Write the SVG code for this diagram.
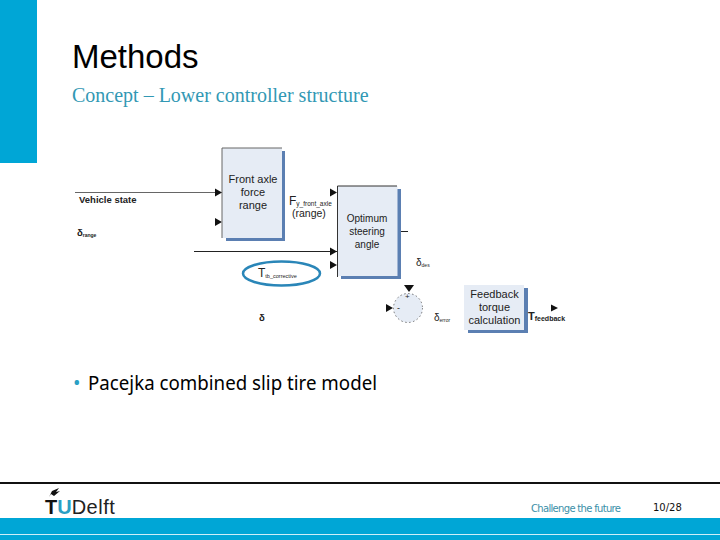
<svg xmlns="http://www.w3.org/2000/svg" width="720" height="540" viewBox="0 0 720 540">
<style>
.s{font-family:"Liberation Sans",Arial,sans-serif;fill:#222}
.b{fill:#e6ecf5;stroke:none}
.sh{fill:#5b7fb2}
.c{stroke:#222;stroke-width:1;fill:none}
.a{fill:#111}
.t{font-size:10px;text-anchor:middle}
.k{font-weight:bold}
</style>
<rect width="720" height="540" fill="#fff"/>
<rect x="0" y="0" width="37" height="163" fill="#00a6d6"/>
<text x="72" y="68" font-size="33" fill="#000" style="font-family:'Liberation Sans',sans-serif">Methods</text>
<text x="72" y="102" font-size="20" fill="#3298b4" style="font-family:'Liberation Serif',serif">Concept – Lower controller structure</text>
<g id="connectors">
<path class="c" style="stroke:#666" d="M75 192.500H222"/>
<path class="c" d="M194 251.500H337"/>
<path class="c" d="M397 231.500H408"/>
<path class="a" d="M215 188.500L222 192.500L215 196.500Z"/>
<path class="a" d="M215 218L222 222L215 226Z"/>
<path class="a" d="M330 188.500L337 192.500L330 196.500Z"/>
<path class="a" d="M330 247.500L337 251.500L330 255.500Z"/>
<path class="a" d="M330 261L337 265L330 269Z"/>
<path class="a" d="M404 285H414L409 292Z"/>
<path class="a" d="M386 304L393 308L386 312Z"/>
<path class="a" d="M551 304.500L558 308L551 311.500Z"/>
</g>
<g id="node-front-axle">
<rect class="sh" x="226" y="151" width="59" height="90"/>
<rect class="b" x="222" y="148" width="60" height="90"/>
<path d="M222 238V148H282" fill="none" stroke="#666" stroke-width="1"/>
<text class="s t" style="font-size:11px" x="253" y="183">Front axle</text>
<text class="s t" style="font-size:11px" x="253" y="196">force</text>
<text class="s t" style="font-size:11px" x="253" y="209">range</text>
</g>
<g id="node-optimum">
<rect class="sh" x="341" y="189" width="60" height="90"/>
<rect class="b" x="337.500" y="186" width="60" height="90"/>
<path d="M337.500 277V186H397" fill="none" stroke="#333" stroke-width="1"/>
<text class="s t" x="367" y="222">Optimum</text>
<text class="s t" x="367" y="235">steering</text>
<text class="s t" x="367" y="248">angle</text>
</g>
<g id="node-feedback">
<rect class="sh" x="468" y="288" width="60" height="45"/>
<rect class="b" x="464" y="285" width="60" height="45"/>
<text class="s t" style="font-size:11px" x="494.500" y="298">Feedback</text>
<text class="s t" style="font-size:11px" x="494.500" y="311">torque</text>
<text class="s t" style="font-size:11px" x="494.500" y="324">calculation</text>
</g>
<g id="node-sum">
<circle cx="408" cy="308" r="14.500" fill="#e6ecf5" stroke="#555" stroke-width="0.800" stroke-dasharray="1.500 2.500"/>
<text class="s" font-size="8" x="405" y="299">+</text>
<text class="s" font-size="9" x="397" y="311">-</text>
</g>
<g id="node-corrective">
<ellipse cx="281.500" cy="273.500" rx="38.500" ry="12" fill="#fff" stroke="#2a86b8" stroke-width="2.500"/>
<text class="s" font-size="12" x="258" y="277">T<tspan font-size="5.500" dy="1">tb_corrective</tspan></text>
</g>
<g id="labels">
<text class="s k" font-size="9.500" x="79" y="203">Vehicle state</text>
<text class="s k" font-size="9.500" x="77" y="236">δ<tspan font-size="5" dy="1">range</tspan></text>
<text class="s k" font-size="9.500" x="259" y="321">δ</text>
<text class="s" font-size="12" x="289" y="205">F<tspan font-size="6.500" dy="1">y_front_axle</tspan></text>
<text class="s" font-size="10.500" x="292" y="217">(range)</text>
<text class="s" font-size="10" x="416" y="266">δ<tspan font-size="5" dy="1">des</tspan></text>
<text class="s" font-size="10" x="434" y="321">δ<tspan font-size="5" dy="1">error</tspan></text>
<text class="s k" font-size="11" x="528" y="320">T<tspan font-size="7" dy="1">feedback</tspan></text>
</g>
<text y="390" font-size="20" fill="#000" style="font-family:'Noto Sans',sans-serif"><tspan x="73" fill="#2a9fc4">•</tspan><tspan x="88" textLength="289" lengthAdjust="spacingAndGlyphs">Pacejka combined slip tire model</tspan></text>
<rect x="0" y="482" width="720" height="2" fill="#111"/>
<g id="logo">
<path d="M49 497L52 491L59 488L56 492L60 491L54 496L51 494Z" fill="#111"/>
<text x="45" y="514" font-size="20" font-weight="bold" fill="#111" style="font-family:'Liberation Sans',sans-serif">T<tspan fill="#2a9fc4">U</tspan><tspan font-weight="normal" font-size="20" fill="#222" letter-spacing="0.500">Delft</tspan></text>
</g>
<text x="531" y="512" font-size="10" fill="#3a8fa8" textLength="90" style="font-family:'DejaVu Sans',sans-serif">Challenge the future</text>
<text x="653" y="511" font-size="10" fill="#111" style="font-family:'DejaVu Sans',sans-serif">10/28</text>
<rect x="0" y="518" width="720" height="22" fill="#00a6d6"/>
<rect x="0" y="534" width="720" height="1" fill="#cdeef8"/>
</svg>
